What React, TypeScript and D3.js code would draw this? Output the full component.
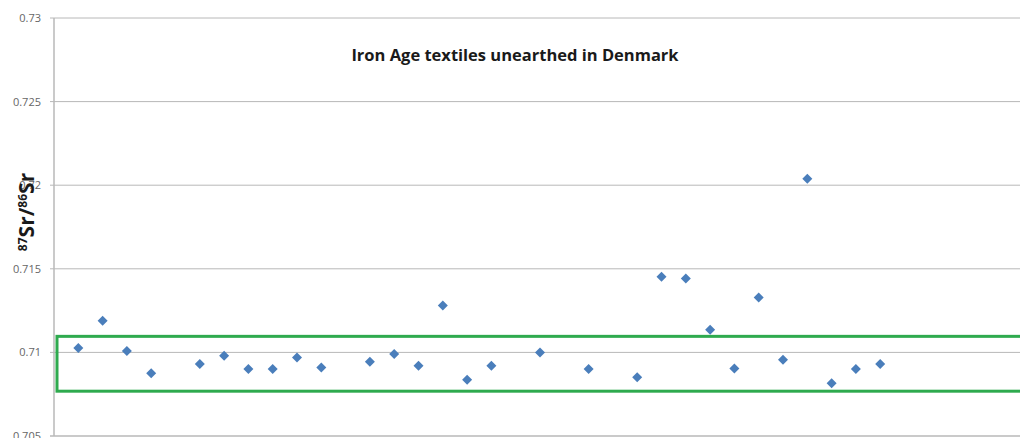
import React from 'react'
import * as d3 from 'd3'

// sample positions (x) with gaps, and their 87Sr/86Sr values
const sampleIdx = [1, 2, 3, 4, 6, 7, 8, 9, 10, 11, 13, 14, 15, 16, 17, 18, 20, 22, 24, 25, 26, 27, 28, 29, 30, 31, 32, 33, 34]
const srRatio = [
  0.71026, 0.7119, 0.71008, 0.70876, 0.7093, 0.7098, 0.709, 0.709, 0.7097, 0.7091,
  0.70944, 0.7099, 0.7092, 0.7128, 0.70836, 0.7092, 0.71, 0.709, 0.70852, 0.71453,
  0.71442, 0.71136, 0.70904, 0.71328, 0.70956, 0.72038, 0.70816, 0.709, 0.7093,
]
const yTicks = [0.705, 0.71, 0.715, 0.72, 0.725, 0.73]
const tickLabels = ['0.705', '0.71', '0.715', '0.72', '0.725', '0.73']
const bandRange = [0.70768, 0.71096]

const width = 1020
const height = 438
const left = 54
const top = 18
const bottom = 436

const App = () => {
  const x = d3.scaleLinear().domain([0, 40]).range([left, left + 24.3 * 40])
  const y = d3.scaleLinear().domain([0.705, 0.73]).range([bottom, top])
  const diamond = d3.symbol(d3.symbolSquare, 50)()
  const font = "'Open Sans', 'Noto Sans', sans-serif"

  return (
    <svg
      width={width}
      height={height}
      style={{position: 'absolute', left: 0, top: 0, background: '#fff'}}
    >
      {yTicks.map((t, i) => (
        <g key={t}>
          <line
            x1={left - 4}
            x2={width + 10}
            y1={y(t)}
            y2={y(t)}
            stroke="#b8b8b8"
            strokeWidth={i === 0 ? 1.5 : 1}
          />
          <text
            x={left - 13}
            y={y(t) + 4}
            textAnchor="end"
            fontSize={11}
            fill="#666"
            fontFamily={font}
          >
            {tickLabels[i]}
          </text>
        </g>
      ))}
      <line x1={left} x2={left} y1={top} y2={bottom} stroke="#b8b8b8" strokeWidth={1.5} />

      <rect
        x={57}
        y={y(bandRange[1])}
        width={width + 20}
        height={y(bandRange[0]) - y(bandRange[1])}
        fill="none"
        stroke="#2eaa4e"
        strokeWidth={3}
      />

      {sampleIdx.map((s, i) => (
        <path
          key={i}
          d={diamond}
          transform={`translate(${x(s)},${y(srRatio[i])}) rotate(45)`}
          fill="#4a7ebb"
        />
      ))}

      <text
        x={515}
        y={61}
        textAnchor="middle"
        fontSize={16.5}
        fontWeight="bold"
        fill="#1a1a1a"
        fontFamily={font}
      >
        Iron Age textiles unearthed in Denmark
      </text>

      <text
        transform="translate(34,212) rotate(-90)"
        textAnchor="middle"
        fontSize={21}
        fontWeight="bold"
        fill="#1a1a1a"
        fontFamily={font}
      >
        <tspan fontSize={12} dy={-7}>87</tspan>
        <tspan dy={7}>Sr/</tspan>
        <tspan fontSize={12} dy={-7}>86</tspan>
        <tspan dy={7}>Sr</tspan>
      </text>
    </svg>
  )
}

export default App
